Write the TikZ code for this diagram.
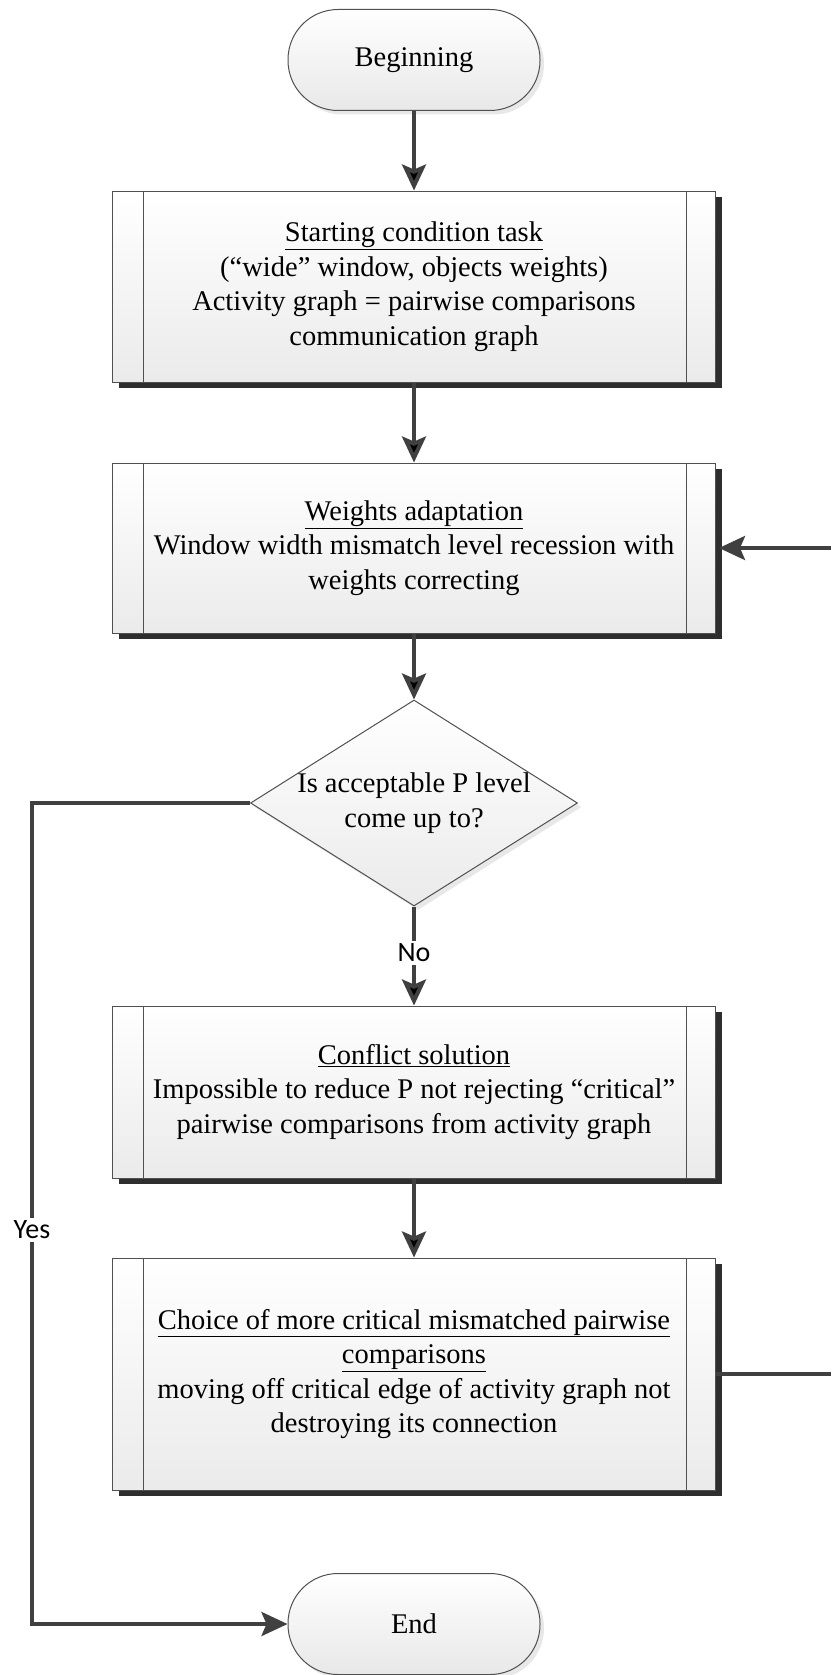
\documentclass[tikz,border=0pt]{standalone}
\usepackage{fontspec}
\setmainfont{Liberation Serif}
\newfontfamily\lblfont{Carlito}
\usetikzlibrary{shapes.geometric,shadows,arrows.meta}
\definecolor{linec}{HTML}{404040}
\definecolor{edgec}{HTML}{505050}

\begin{document}
\begin{tikzpicture}[x=1pt,y=-1pt,
  >={Stealth[length=26pt,width=24pt,inset=5pt]},
  every node/.style={font=\fontsize{28.5}{34.5}\selectfont,align=center},
  term/.style={draw=edgec,line width=1pt,rectangle,rounded corners=50pt,
    minimum width=252pt,minimum height=101pt,top color=white,bottom color=black!9,
    drop shadow={shadow xshift=4pt,shadow yshift=-4pt,fill=black!18}},
  proc/.style={draw=edgec,line width=1pt,rectangle,minimum width=603pt,
    top color=white,bottom color=black!8,
    drop shadow={shadow xshift=6pt,shadow yshift=-6pt,fill=black!82,opacity=1},
    path picture={\draw[edgec,line width=1pt]
      ([xshift=31pt]path picture bounding box.north west) -- ([xshift=31pt]path picture bounding box.south west)
      ([xshift=-29pt]path picture bounding box.north east) -- ([xshift=-29pt]path picture bounding box.south east);}},
  dec/.style={draw=edgec,line width=1pt,diamond,inner sep=0pt,
    minimum width=327pt,minimum height=206pt,top color=white,bottom color=black!8,
    drop shadow={shadow xshift=4pt,shadow yshift=-4pt,fill=black!18}},
  arr/.style={draw=linec,line width=4pt},
  lbl/.style={fill=white,inner sep=3pt,font=\lblfont\fontsize{28}{30}\selectfont}]
\useasboundingbox (0,0) rectangle (831,1675);

\node[term] (1) at (414,60) {Beginning};
\node[proc,minimum height=191pt] (2) at (414,286.5) {\underline{Starting condition task}\\(``wide'' window, objects weights)\\Activity graph = pairwise comparisons\\communication graph};
\node[proc,minimum height=170pt] (3) at (414,548) {\underline{Weights adaptation}\\Window width mismatch level recession with\\weights correcting};
\node[dec] (4) at (414,803) {};
\node (4t) at (4) {Is acceptable P level\\come up to?};
\node[proc,minimum height=172pt] (5) at (414,1092) {\underline{Conflict solution}\\Impossible to reduce P not rejecting ``critical''\\pairwise comparisons from activity graph};
\node[proc,minimum height=232pt] (6) at (414,1374) {\underline{Choice of more critical mismatched pairwise}\\\underline{comparisons}\\moving off critical edge of activity graph not\\destroying its connection};
\node[term] (7) at (414,1624) {End};

\coordinate (L) at (32,1230);
\coordinate (R) at (831,0);

\path[arr,->] (1) edge (2);
\path[arr,->] (2) edge (3);
\path[arr,->] (3) edge (4);
\path[arr,->] (4) edge node[lbl,pos=0.47] {No} (5);
\path[arr,->] (5) edge (6);
\path[arr] (6.east) -- (6.east -| R);
\path[arr,->] (3.east -| R) -- ([xshift=3pt]3.east);
\path[arr,->] (4.west) -- (4.west -| L) -- node[lbl,pos=0.52] {Yes} (7.west -| L) -- (7.west);
\end{tikzpicture}
\end{document}
